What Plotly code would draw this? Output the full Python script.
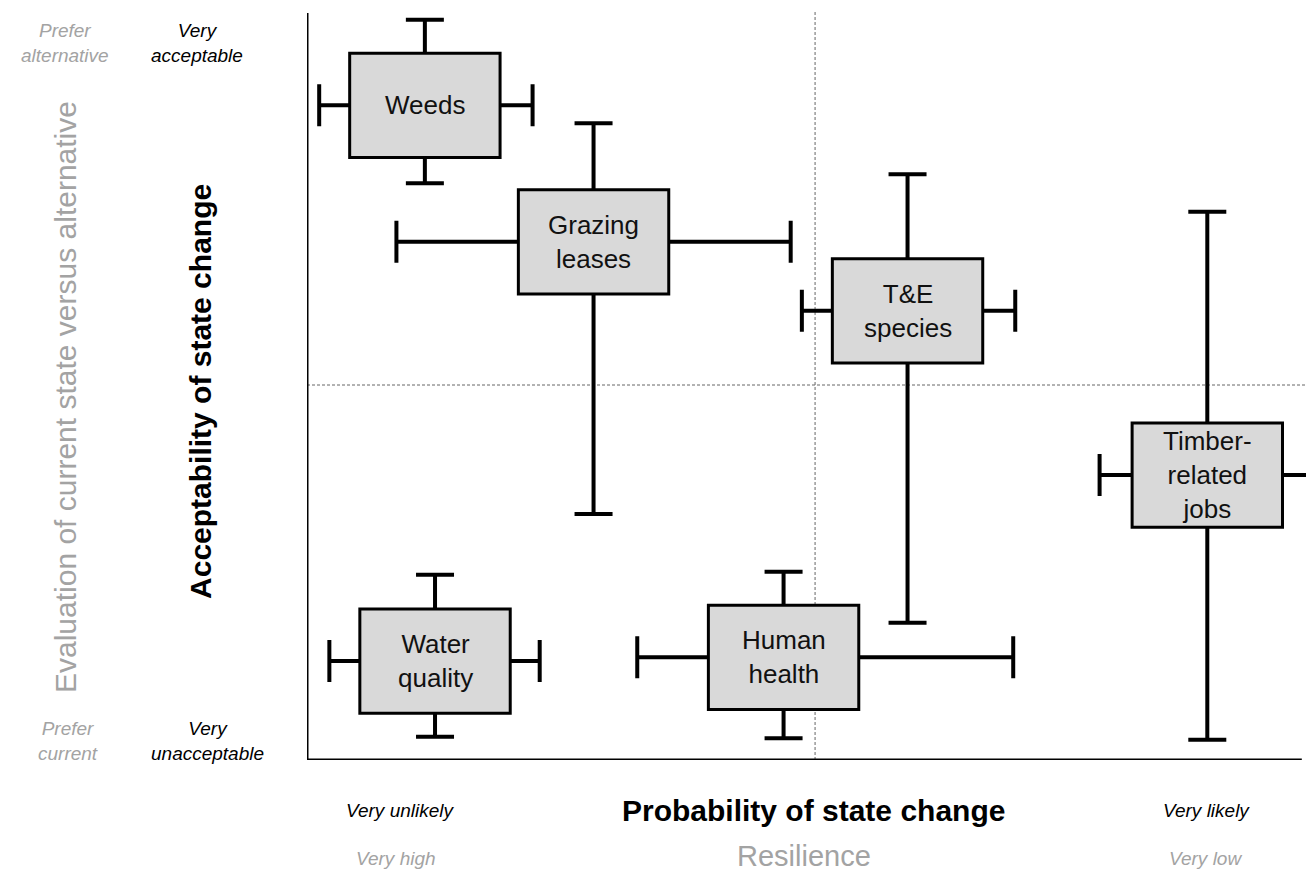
import plotly.graph_objects as go

# ---- data ----
labels = ["Weeds", "Grazing<br>leases", "T&E<br>species", "Timber-<br>related<br>jobs",
          "Water<br>quality", "Human<br>health"]
prob_mid = [11.6, 28.2, 59.1, 88.6, 12.6, 46.9]
prob_low = [1.2, 8.8, 48.7, 78.0, 2.2, 32.5]
prob_high = [22.2, 47.6, 69.7, 98.6, 22.9, 69.5]
accept_mid = [87.3, 69.1, 59.9, 38.0, 13.2, 13.7]
accept_low = [76.9, 32.8, 18.3, 2.7, 3.1, 2.9]
accept_high = [98.7, 84.9, 78.1, 73.1, 24.7, 25.1]

x_mid_ref = 50
y_mid_ref = 50

# ---- layout constants ----
FONT = "Liberation Sans, Arial, sans-serif"
BOX_W = 14.8
BOX_H = 13.9
X_RANGE = [0, 99.1]
Y_RANGE = [0, 100]
GRAY = "#a3a3a3"

fig = go.Figure()

fig.add_trace(go.Scatter(
    x=prob_mid, y=accept_mid, mode="markers",
    marker=dict(size=1, color="rgba(0,0,0,0)"),
    error_x=dict(type="data", symmetric=False,
                 array=[h - m for h, m in zip(prob_high, prob_mid)],
                 arrayminus=[m - l for m, l in zip(prob_mid, prob_low)],
                 color="black", thickness=4, width=21),
    error_y=dict(type="data", symmetric=False,
                 array=[h - m for h, m in zip(accept_high, accept_mid)],
                 arrayminus=[m - l for m, l in zip(accept_mid, accept_low)],
                 color="black", thickness=4, width=19),
    hoverinfo="skip", showlegend=False, cliponaxis=False,
))

shapes = []
# reference dashed lines
shapes.append(dict(type="line", xref="x", yref="paper", x0=x_mid_ref, x1=x_mid_ref, y0=0, y1=1,
                   line=dict(color="#666666", width=1, dash="3px,2px"), layer="below"))
shapes.append(dict(type="line", xref="paper", yref="y", x0=0, x1=1, y0=y_mid_ref, y1=y_mid_ref,
                   line=dict(color="#666666", width=1, dash="3px,2px"), layer="below"))
# axis lines
shapes.append(dict(type="line", xref="x", yref="y", x0=0, x1=0, y0=0, y1=99.6,
                   line=dict(color="black", width=3)))
shapes.append(dict(type="line", xref="x", yref="y", x0=0, x1=97.9, y0=0, y1=0,
                   line=dict(color="black", width=3)))
# boxes
for xm, ym in zip(prob_mid, accept_mid):
    shapes.append(dict(type="rect", xref="x", yref="y",
                       x0=xm - BOX_W / 2, x1=xm + BOX_W / 2,
                       y0=ym - BOX_H / 2, y1=ym + BOX_H / 2,
                       fillcolor="#d9d9d9", line=dict(color="black", width=3),
                       layer="above"))

annotations = []
for lab, xm, ym in zip(labels, prob_mid, accept_mid):
    annotations.append(dict(x=xm, y=ym, xref="x", yref="y", text=lab, showarrow=False,
                            font=dict(family=FONT, size=26, color="#111111"),
                            align="center"))

def pann(text, x, y, size, color, italic=False, bold=False, angle=0):
    t = text
    if bold:
        t = "<b>" + t + "</b>"
    if italic:
        t = "<i>" + t + "</i>"
    annotations.append(dict(x=x, y=y, xref="paper", yref="paper", text=t, showarrow=False,
                            textangle=angle, xanchor="center", yanchor="middle",
                            borderpad=0,
                            font=dict(family=FONT, size=size, color=color), align="center"))

pann("Probability of state change", 0.5025, -0.0667, 30, "black", bold=True)
pann("Resilience", 0.4935, -0.1275, 29, GRAY)
pann("Very unlikely", 0.0933, -0.0667, 19, "black", italic=True)
pann("Very likely", 0.8928, -0.0667, 19, "black", italic=True)
pann("Very high", 0.0884, -0.1307, 19, GRAY, italic=True)
pann("Very low", 0.8918, -0.1307, 19, GRAY, italic=True)
pann("Acceptability of state change", -0.1063, 0.492, 30, "black", bold=True, angle=-90)
pann("Evaluation of current state versus alternative", -0.2403, 0.484, 30, GRAY, angle=-90)
pann("Very<br>acceptable", -0.1092, 0.956, 19, "black", italic=True)
pann("Prefer<br>alternative", -0.2403, 0.956, 19, GRAY, italic=True)
pann("Very<br>unacceptable", -0.0993, 0.0253, 19, "black", italic=True)
pann("Prefer<br>current", -0.2373, 0.0253, 19, GRAY, italic=True)

# the page places the figure 8px from the top-left corner, so the figure is
# sized to end exactly at the window edge
fig.update_layout(
    width=1306, height=863,
    margin=dict(l=299, r=0, t=2, b=111),
    paper_bgcolor="white", plot_bgcolor="white",
    xaxis=dict(range=X_RANGE, showgrid=False, zeroline=False, showticklabels=False,
               showline=False, ticks=""),
    yaxis=dict(range=Y_RANGE, showgrid=False, zeroline=False, showticklabels=False,
               showline=False, ticks=""),
    shapes=shapes, annotations=annotations, showlegend=False,
    font=dict(family=FONT),
)

fig.write_html("out.html")
